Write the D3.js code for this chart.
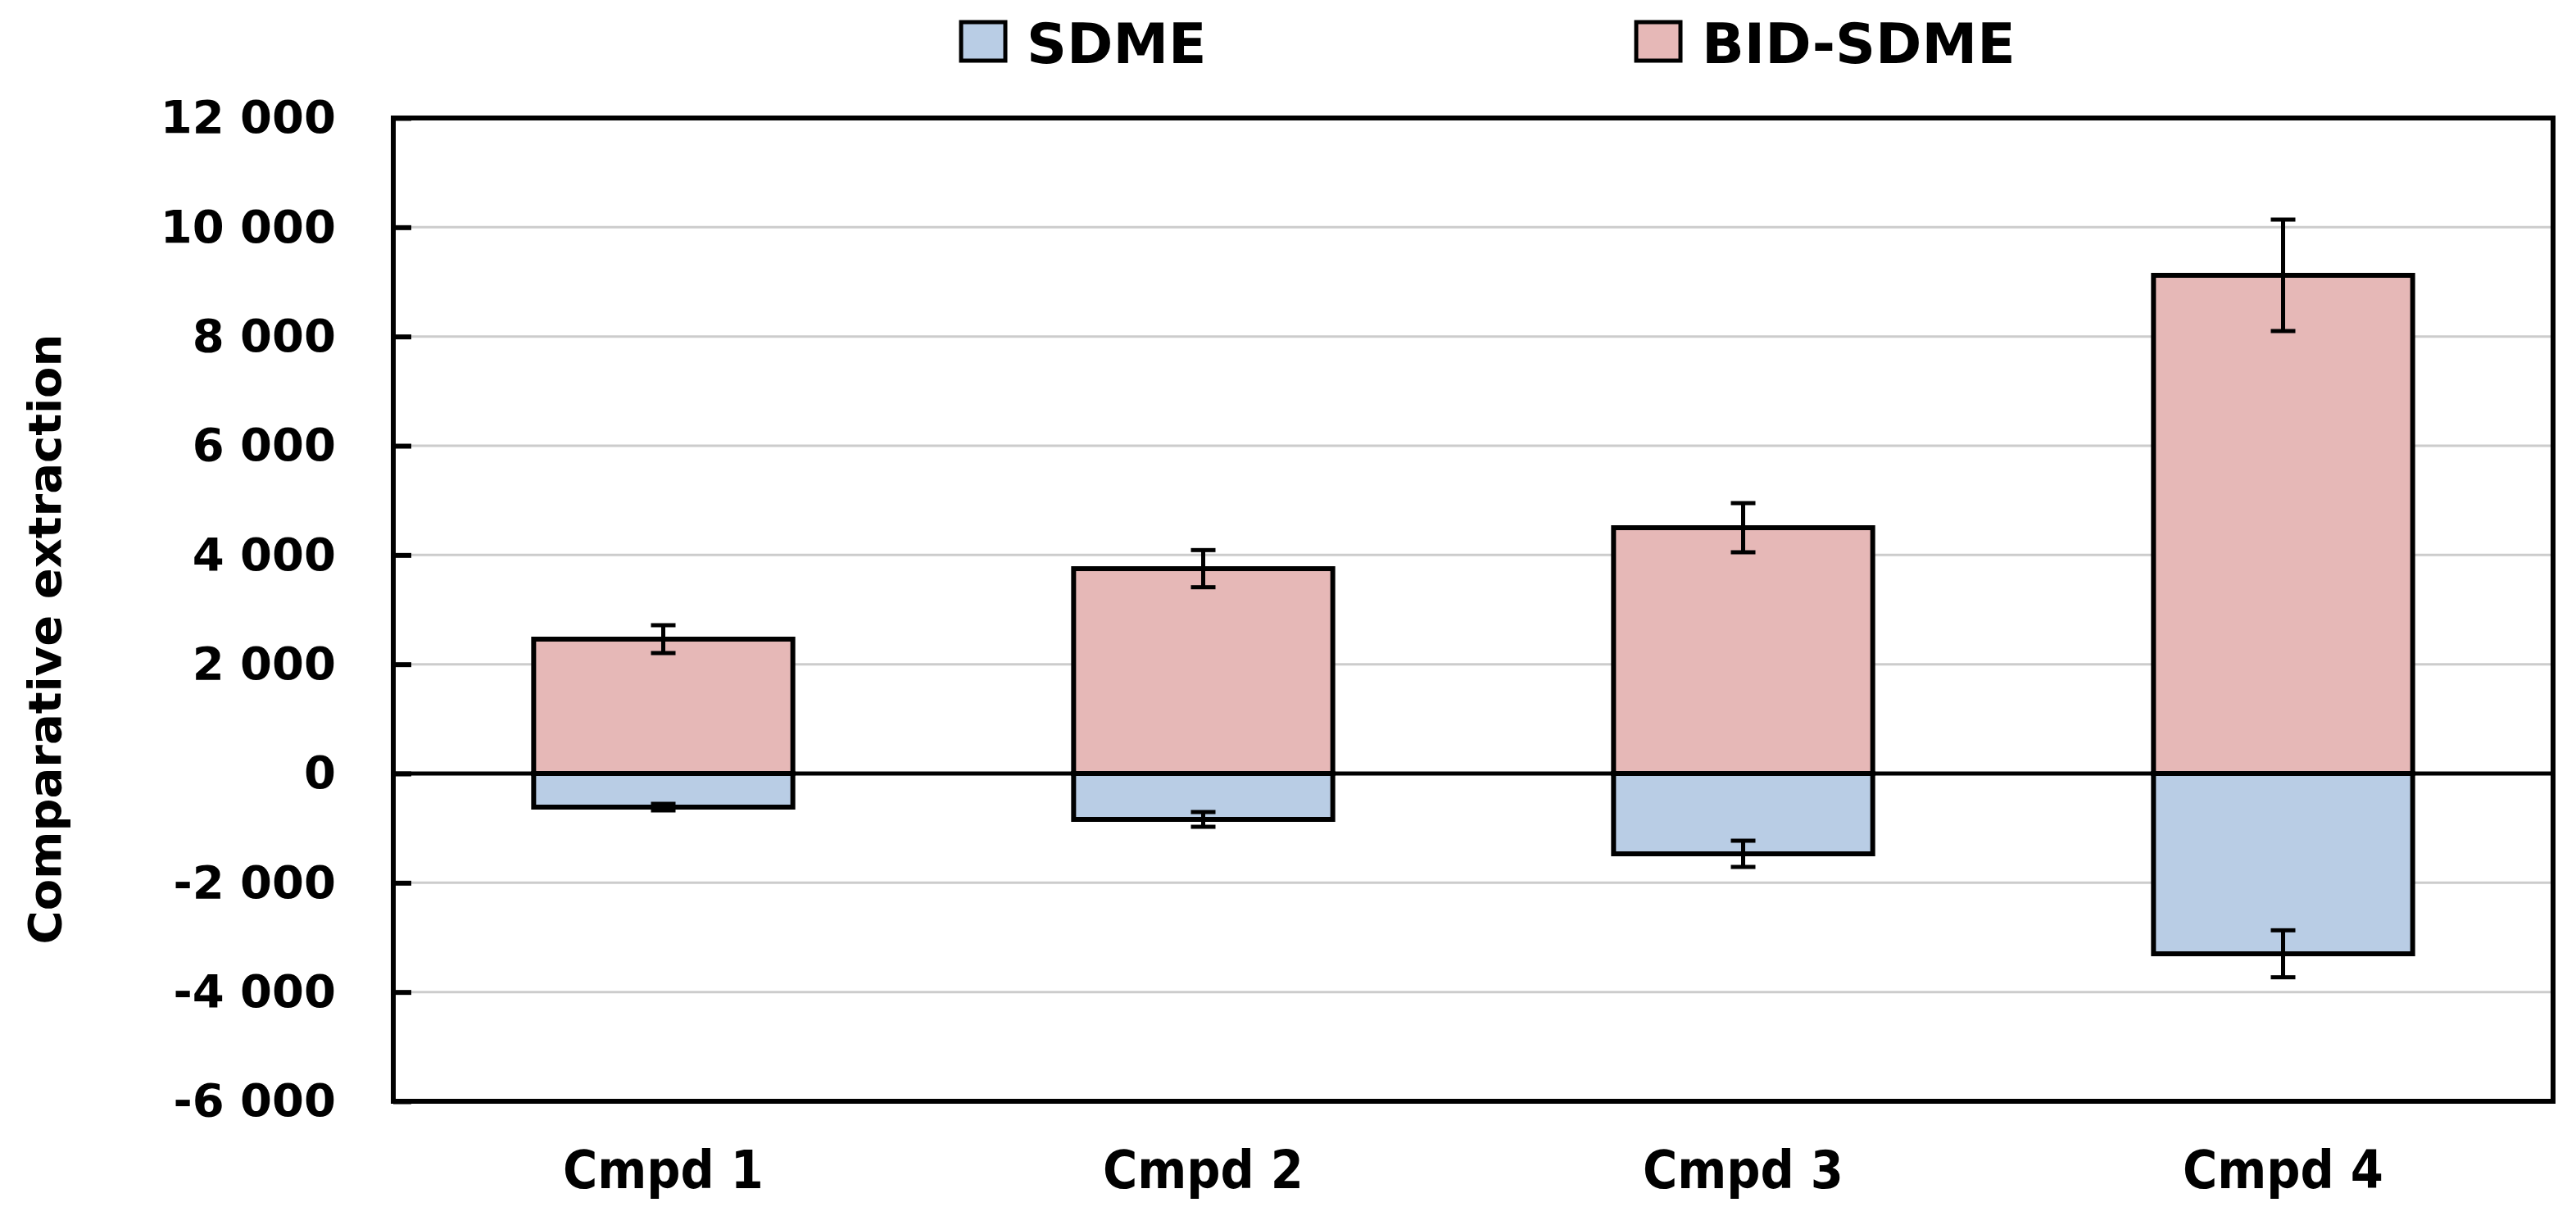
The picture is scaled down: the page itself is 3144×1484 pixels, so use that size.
<!DOCTYPE html>
<html>
<head>
  <meta charset="utf-8">
  <title>Comparative extraction</title>
  <script type="text/javascript" src="https://cdn.jsdelivr.net/npm/d3@7/dist/d3.min.js"></script>
  <style>
    body { margin: 0; background: #fff; }
    text { font-family: "DejaVu Sans", Verdana, sans-serif; font-weight: bold; fill: #000; }
  </style>
</head>
<body>
  <svg id="chart"></svg>
  <script>
    // data
    var categories = ["Cmpd 1", "Cmpd 2", "Cmpd 3", "Cmpd 4"];
    var seriesNames = ["SDME", "BID-SDME"];
    var sdme = [-615, -840, -1470, -3300];
    var sdmeErr = [60, 135, 240, 430];
    var bidSdme = [2460, 3750, 4500, 9120];
    var bidSdmeErr = [255, 340, 450, 1020];
    var yTicks = [-6000, -4000, -2000, 0, 2000, 4000, 6000, 8000, 10000, 12000];
    var gridTicks = [-4000, -2000, 2000, 4000, 6000, 8000, 10000];

    var colors = { "SDME": "#b9cde5", "BID-SDME": "#e6b8b7" };

    var width = 3144, height = 1484;
    var plot = { left: 480, right: 3116, top: 144, bottom: 1344 };

    var svg = d3.select("#chart")
        .attr("width", width)
        .attr("height", height);

    var x = d3.scaleBand()
        .domain(categories)
        .range([plot.left, plot.right])
        .paddingInner(0.52)
        .paddingOuter(0.26);

    var y = d3.scaleLinear()
        .domain([-6000, 12000])
        .range([plot.bottom, plot.top]);

    var locale = d3.formatLocale({
        decimal: ".", thousands: " ", grouping: [3], currency: ["", ""], minus: "-"
    });
    var fmt = locale.format(",");

    // grid
    svg.append("g")
        .selectAll("line")
        .data(gridTicks)
        .join("line")
        .attr("x1", plot.left)
        .attr("x2", plot.right)
        .attr("y1", function(d) { return y(d); })
        .attr("y2", function(d) { return y(d); })
        .attr("stroke", "#cccccc")
        .attr("stroke-width", 3);

    // bars
    var bars = svg.append("g");
    bars.selectAll("rect.bid")
        .data(bidSdme)
        .join("rect")
        .attr("class", "bid")
        .attr("x", function(d, i) { return x(categories[i]); })
        .attr("width", x.bandwidth())
        .attr("y", function(d) { return y(d); })
        .attr("height", function(d) { return y(0) - y(d); })
        .attr("fill", colors["BID-SDME"])
        .attr("stroke", "#000")
        .attr("stroke-width", 6);

    bars.selectAll("rect.sdme")
        .data(sdme)
        .join("rect")
        .attr("class", "sdme")
        .attr("x", function(d, i) { return x(categories[i]); })
        .attr("width", x.bandwidth())
        .attr("y", y(0))
        .attr("height", function(d) { return y(d) - y(0); })
        .attr("fill", colors["SDME"])
        .attr("stroke", "#000")
        .attr("stroke-width", 6);

    // zero line
    svg.append("line")
        .attr("x1", plot.left)
        .attr("x2", plot.right)
        .attr("y1", y(0))
        .attr("y2", y(0))
        .attr("stroke", "#000")
        .attr("stroke-width", 5);

    // error bars
    function errorBars(vals, errs) {
        var g = svg.append("g")
            .attr("stroke", "#000")
            .attr("stroke-width", 5);
        vals.forEach(function(v, i) {
            var cx = x(categories[i]) + x.bandwidth() / 2;
            var lo = y(v - errs[i]), hi = y(v + errs[i]);
            g.append("line").attr("x1", cx).attr("x2", cx).attr("y1", lo).attr("y2", hi);
            g.append("line").attr("x1", cx - 15).attr("x2", cx + 15).attr("y1", lo).attr("y2", lo);
            g.append("line").attr("x1", cx - 15).attr("x2", cx + 15).attr("y1", hi).attr("y2", hi);
        });
    }
    errorBars(bidSdme, bidSdmeErr);
    errorBars(sdme, sdmeErr);

    // frame
    svg.append("rect")
        .attr("x", plot.left)
        .attr("y", plot.top)
        .attr("width", plot.right - plot.left)
        .attr("height", plot.bottom - plot.top)
        .attr("fill", "none")
        .attr("stroke", "#000")
        .attr("stroke-width", 6);

    // y axis
    var yAxis = svg.append("g")
        .attr("transform", "translate(" + plot.left + ",0)")
        .call(d3.axisLeft(y).tickValues(yTicks).tickFormat(fmt)
            .tickSize(-22).tickPadding(70));
    yAxis.select(".domain").remove();
    yAxis.selectAll(".tick line").attr("stroke", "#000").attr("stroke-width", 6);
    yAxis.selectAll(".tick text")
        .attr("font-size", 56)
        .attr("font-family", "DejaVu Sans, Verdana, sans-serif")
        .attr("font-weight", "bold")
        .attr("fill", "#000");

    // x labels
    svg.append("g")
        .selectAll("text")
        .data(categories)
        .join("text")
        .attr("x", function(d) { return x(d) + x.bandwidth() / 2; })
        .attr("y", 1450)
        .attr("text-anchor", "middle")
        .attr("font-size", 64)
        .style("font-family", "'DejaVu Sans Condensed', 'DejaVu Sans', sans-serif")
        .text(function(d) { return d; });

    // y title
    svg.append("text")
        .attr("transform", "translate(74,780) rotate(-90)")
        .attr("text-anchor", "middle")
        .attr("font-size", 56)
        .text("Comparative extraction");

    // legend
    var legendX = [1171, 1995];
    var legend = svg.append("g")
        .selectAll("g")
        .data(seriesNames)
        .join("g")
        .attr("transform", function(d, i) { return "translate(" + legendX[i] + ",0)"; });
    legend.append("rect")
        .attr("x", 2)
        .attr("y", 27)
        .attr("width", 54)
        .attr("height", 47)
        .attr("fill", function(d) { return colors[d]; })
        .attr("stroke", "#000")
        .attr("stroke-width", 5);
    legend.append("text")
        .attr("x", 82)
        .attr("y", 77)
        .attr("font-size", 68)
        .text(function(d) { return d; });
  </script>
</body>
</html>
